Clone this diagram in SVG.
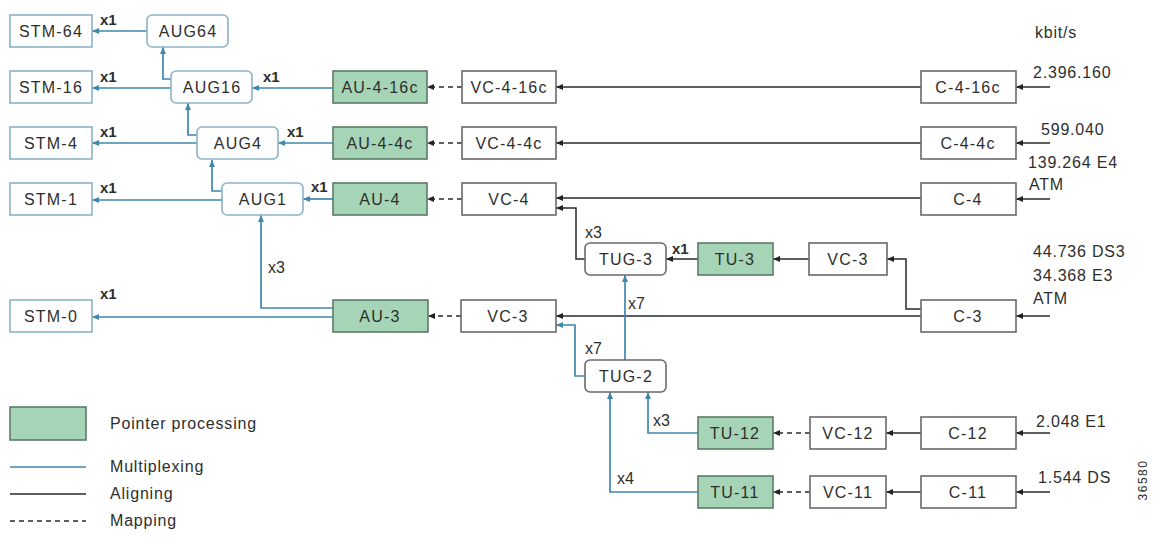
<svg xmlns="http://www.w3.org/2000/svg" width="1154" height="539" viewBox="0 0 1154 539">
<defs>
<marker id="ab" markerUnits="userSpaceOnUse" markerWidth="8" markerHeight="7" refX="7" refY="3" orient="auto"><path d="M0,0 L7,3 L0,6 z" fill="#3f87ad"/></marker>
<marker id="ak" markerUnits="userSpaceOnUse" markerWidth="8" markerHeight="7" refX="7" refY="3" orient="auto"><path d="M0,0 L7,3 L0,6 z" fill="#222"/></marker>
<style>
text{font-family:"Liberation Sans",Arial,sans-serif;fill:#2e2e2e}
.t{font-size:16px;letter-spacing:1.2px;text-anchor:middle}
.r{font-size:16px;letter-spacing:0.8px}
.m{font-size:15px;font-weight:bold}
.n{font-size:16px}
.stm{fill:#fff;stroke:#8cb3c6;stroke-width:1.6}
.aug{fill:#fff;stroke:#8cb3c6;stroke-width:1.6}
.g{fill:#a5d5b6;stroke:#5d7a67;stroke-width:1.6}
.w{fill:#fff;stroke:#6a6a6a;stroke-width:1.6}
.blue{fill:none;stroke:#3f87ad;stroke-width:1.7;marker-end:url(#ab)}
.blk{fill:none;stroke:#2a2a2a;stroke-width:1.5;marker-end:url(#ak)}
.dash{fill:none;stroke:#2a2a2a;stroke-width:1.5;stroke-dasharray:5,4;marker-end:url(#ak)}
</style>
</defs>
<rect width="1154" height="539" fill="#fff"/>
<g id="connectors">
<path class="blue" d="M147,31 H92"/>
<path class="blue" d="M171,79 H163 V47"/>
<path class="blue" d="M171,88 H92"/>
<path class="blue" d="M197,135 H188 V103"/>
<path class="blue" d="M197,143 H92"/>
<path class="blue" d="M222,191 H212 V160"/>
<path class="blue" d="M222,200 H92"/>
<path class="blue" d="M333,88 H252"/>
<path class="blue" d="M333,143 H278"/>
<path class="blue" d="M333,199 H303"/>
<path class="blue" d="M333,308 H261 V215"/>
<path class="blue" d="M333,317 H92"/>
<path class="dash" d="M462,87 H427"/>
<path class="dash" d="M462,143 H427"/>
<path class="dash" d="M462,199 H427"/>
<path class="dash" d="M461,316 H428"/>
<path class="dash" d="M810,433 H773"/>
<path class="dash" d="M810,492 H773"/>
<path class="blk" d="M921,87 H556"/>
<path class="blk" d="M921,143 H556"/>
<path class="blk" d="M921,198 H556"/>
<path class="blk" d="M585,259 H576 V208 H556"/>
<path class="blk" d="M698,259 H666"/>
<path class="blk" d="M809,259 H773"/>
<path class="blk" d="M921,309 H906 V259 H887"/>
<path class="blk" d="M921,316 H556"/>
<path class="blk" d="M921,433 H886"/>
<path class="blk" d="M921,492 H886"/>
<path class="blk" d="M1050,87 H1016"/>
<path class="blk" d="M1050,143 H1016"/>
<path class="blk" d="M1050,199 H1016"/>
<path class="blk" d="M1050,316 H1016"/>
<path class="blk" d="M1050,433 H1016"/>
<path class="blk" d="M1050,492 H1016"/>
<path class="blue" d="M625,360 V275"/>
<path class="blue" d="M585,376 H575 V325 H556"/>
<path class="blue" d="M698,433 H648 V392"/>
<path class="blue" d="M698,492 H610 V392"/>
</g>
<g id="mux-labels">
<text class="m" x="100" y="25">x1</text>
<text class="m" x="100" y="82">x1</text>
<text class="m" x="100" y="137">x1</text>
<text class="m" x="100" y="193">x1</text>
<text class="m" x="100" y="299">x1</text>
<text class="m" x="263" y="82">x1</text>
<text class="m" x="287" y="137">x1</text>
<text class="m" x="311" y="192">x1</text>
<text class="m" x="672" y="254">x1</text>
<text class="n" x="268" y="273">x3</text>
<text class="n" x="585" y="238">x3</text>
<text class="n" x="628" y="309">x7</text>
<text class="n" x="585" y="354">x7</text>
<text class="n" x="653" y="426">x3</text>
<text class="n" x="617" y="484">x4</text>
</g>
<g id="STM-64"><rect class="stm" x="10" y="15" width="82" height="32"/><text class="t" x="51" y="37">STM-64</text></g>
<g id="STM-16"><rect class="stm" x="10" y="71" width="82" height="32"/><text class="t" x="51" y="93">STM-16</text></g>
<g id="STM-4"><rect class="stm" x="10" y="127" width="82" height="32"/><text class="t" x="51" y="149">STM-4</text></g>
<g id="STM-1"><rect class="stm" x="10" y="183" width="82" height="32"/><text class="t" x="51" y="205">STM-1</text></g>
<g id="STM-0"><rect class="stm" x="10" y="300" width="82" height="32"/><text class="t" x="51" y="322">STM-0</text></g>
<g id="AUG64"><rect class="aug" x="147" y="15" width="81" height="32" rx="5"/><text class="t" x="188" y="37">AUG64</text></g>
<g id="AUG16"><rect class="aug" x="171" y="71" width="81" height="32" rx="5"/><text class="t" x="212" y="93">AUG16</text></g>
<g id="AUG4"><rect class="aug" x="197" y="127" width="81" height="32" rx="5"/><text class="t" x="238" y="149">AUG4</text></g>
<g id="AUG1"><rect class="aug" x="222" y="183" width="81" height="32" rx="5"/><text class="t" x="263" y="205">AUG1</text></g>
<g id="AU-4-16c"><rect class="g" x="333" y="71" width="94" height="32"/><text class="t" x="380" y="93">AU-4-16c</text></g>
<g id="AU-4-4c"><rect class="g" x="333" y="127" width="94" height="32"/><text class="t" x="380" y="149">AU-4-4c</text></g>
<g id="AU-4"><rect class="g" x="333" y="183" width="94" height="32"/><text class="t" x="380" y="205">AU-4</text></g>
<g id="AU-3"><rect class="g" x="333" y="300" width="95" height="32"/><text class="t" x="380" y="322">AU-3</text></g>
<g id="VC-4-16c"><rect class="w" x="462" y="71" width="94" height="32"/><text class="t" x="509" y="93">VC-4-16c</text></g>
<g id="VC-4-4c"><rect class="w" x="462" y="127" width="94" height="32"/><text class="t" x="509" y="149">VC-4-4c</text></g>
<g id="VC-4"><rect class="w" x="462" y="183" width="94" height="32"/><text class="t" x="509" y="205">VC-4</text></g>
<g id="VC-3-lo"><rect class="w" x="461" y="300" width="95" height="32"/><text class="t" x="508" y="322">VC-3</text></g>
<g id="C-4-16c"><rect class="w" x="921" y="71" width="95" height="32"/><text class="t" x="968" y="93">C-4-16c</text></g>
<g id="C-4-4c"><rect class="w" x="921" y="127" width="95" height="32"/><text class="t" x="968" y="149">C-4-4c</text></g>
<g id="C-4"><rect class="w" x="921" y="183" width="95" height="32"/><text class="t" x="968" y="205">C-4</text></g>
<g id="C-3"><rect class="w" x="921" y="300" width="95" height="32"/><text class="t" x="968" y="322">C-3</text></g>
<g id="TUG-3"><rect class="w" x="585" y="243" width="81" height="32" rx="5"/><text class="t" x="626" y="265">TUG-3</text></g>
<g id="TU-3"><rect class="g" x="698" y="243" width="75" height="32"/><text class="t" x="735" y="265">TU-3</text></g>
<g id="VC-3-hi"><rect class="w" x="809" y="243" width="78" height="32"/><text class="t" x="848" y="265">VC-3</text></g>
<g id="TUG-2"><rect class="w" x="585" y="360" width="81" height="32" rx="5"/><text class="t" x="626" y="382">TUG-2</text></g>
<g id="TU-12"><rect class="g" x="698" y="417" width="75" height="32"/><text class="t" x="735" y="439">TU-12</text></g>
<g id="VC-12"><rect class="w" x="810" y="417" width="76" height="32"/><text class="t" x="848" y="439">VC-12</text></g>
<g id="C-12"><rect class="w" x="921" y="417" width="95" height="32"/><text class="t" x="968" y="439">C-12</text></g>
<g id="TU-11"><rect class="g" x="698" y="476" width="75" height="32"/><text class="t" x="735" y="498">TU-11</text></g>
<g id="VC-11"><rect class="w" x="810" y="476" width="76" height="32"/><text class="t" x="848" y="498">VC-11</text></g>
<g id="C-11"><rect class="w" x="921" y="476" width="95" height="32"/><text class="t" x="968" y="498">C-11</text></g>
<g id="rates">
<text class="r" x="1035" y="38">kbit/s</text>
<text class="r" x="1033" y="78">2.396.160</text>
<text class="r" x="1041" y="135">599.040</text>
<text class="r" x="1028" y="168">139.264 E4</text>
<text class="r" x="1029" y="190">ATM</text>
<text class="r" x="1033" y="257">44.736 DS3</text>
<text class="r" x="1033" y="281">34.368 E3</text>
<text class="r" x="1033" y="304">ATM</text>
<text class="r" x="1036" y="427">2.048 E1</text>
<text class="r" x="1038" y="483">1.544 DS</text>
<text x="1147" y="480" font-size="12" letter-spacing="1.5" text-anchor="middle" transform="rotate(-90 1147 480)">36580</text>
</g>
<g id="legend">
<rect class="g" x="10" y="407" width="76" height="33"/>
<text class="r" x="110" y="429">Pointer processing</text>
<line x1="10" y1="467" x2="86" y2="467" stroke="#3f87ad" stroke-width="1.6"/>
<text class="r" x="110" y="472">Multiplexing</text>
<line x1="10" y1="494" x2="86" y2="494" stroke="#2a2a2a" stroke-width="1.4"/>
<text class="r" x="110" y="499">Aligning</text>
<line x1="10" y1="521" x2="86" y2="521" stroke="#2a2a2a" stroke-width="1.4" stroke-dasharray="5,4"/>
<text class="r" x="110" y="526">Mapping</text>
</g>
</svg>
